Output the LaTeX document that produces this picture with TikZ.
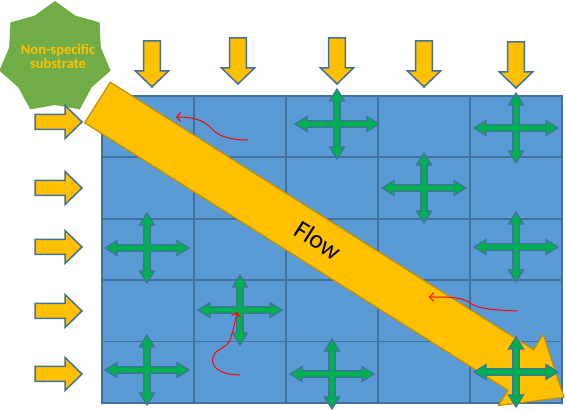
\documentclass[tikz,border=0pt]{standalone}
\usepackage{fontspec}
\setmainfont{Carlito}
\usetikzlibrary{arrows.meta}
\definecolor{gridfill}{HTML}{5B9BD5}
\definecolor{gridline}{HTML}{41719C}
\definecolor{gold}{HTML}{FFC000}
\definecolor{goldedge}{HTML}{BF9000}
\definecolor{crossg}{HTML}{00B050}
\definecolor{starg}{HTML}{70AD47}
\definecolor{redc}{HTML}{FF0000}
\tikzset{
 inarrow/.style={fill=gold, draw=gridline, line width=1.5pt, line join=miter},
 crossarrow/.style={fill=crossg, draw=gridline, line width=1.2pt},
 gridrule/.style={draw=gridline, line width=1.8pt},
 redflow/.style={draw=redc, line width=1pt, -{Straight Barb[length=4pt,width=9pt]}},
 pics/rarrow/.style={code={\path[inarrow] (0,-7.5) -- (30,-7.5) -- (30,-16.5) -- (47,0) -- (30,16.5) -- (30,7.5) -- (0,7.5) -- cycle;}},
 pics/darrow/.style={code={\path[inarrow] (-8.3,0) -- (8.3,0) -- (8.3,30) -- (16.5,30) -- (0,46) -- (-16.5,30) -- (-8.3,30) -- cycle;}},
 pics/quad/.style={code={\path[crossarrow] (42,0) -- (30,-7.5) -- (30,-3.2) -- (3.2,-3.2) -- (3.2,-23) -- (7.5,-23) -- (0,-35) -- (-7.5,-23) -- (-3.2,-23) -- (-3.2,-3.2) -- (-30,-3.2) -- (-30,-7.5) -- (-42,0) -- (-30,7.5) -- (-30,3.2) -- (-3.2,3.2) -- (-3.2,23) -- (-7.5,23) -- (0,35) -- (7.5,23) -- (3.2,23) -- (3.2,3.2) -- (30,3.2) -- (30,7.5) -- cycle;}},
}
\begin{document}
\begin{tikzpicture}[x=1pt,y=-1pt]
\useasboundingbox (0,0) rectangle (566,411);
% grid
\fill[gridfill] (102,96) rectangle (562,403);
\foreach \x in {194,286,378,470} \draw[gridrule] (\x,96) -- (\x,403);
\foreach \y in {157.4,218.8,280.2,341.6} \draw[gridrule] (102,\y) -- (562,\y);
\draw[gridrule] (102,96) rectangle (562,403);
% star
\begin{scope}[shift={(55,58)}]
\fill[starg] (-90:57) \foreach \k in {0,...,6}{ -- ({-90+(\k+0.5)*360/7}:47) -- ({-90+(\k+1)*360/7}:57)} -- cycle;
\end{scope}
\node[text=gold, font=\bfseries\fontsize{14.5}{14}\selectfont, align=center, inner sep=0pt] (substrate) at (58,56) {Non-specific\\substrate};
% incoming arrows
\foreach \y in {122,188,247,311,374} \pic at (35,\y) {rarrow};
\foreach \x/\y in {152/41,238/38,337/38,424/41,516/42} \pic at (\x,\y) {darrow};
% crosses
\foreach \x/\y in {337/124,516/128,424/188,147/248,516/247,240/310,147/370,332/374} \pic at (\x,\y) {quad};
% flow arrow
\path[fill=gold, draw=goldedge, line width=1.2pt, line join=miter] (110.3,82.2) -- (533.6,349.7) -- (543.2,334.5) -- (563.9,397.3) -- (498.4,405.5) -- (508,390.3) -- (84.7,122.8) -- cycle;
\pic at (516,372) {quad};
\node[rotate=-32.3, font=\fontsize{26}{26}\selectfont] (flow) at (318,240) {Flow};
% red curves
\coordinate (r1s) at (248,140); \coordinate (r1e) at (176,117);
\draw[redflow] (r1s) .. controls (230,140) and (218,136) .. (212,129) .. controls (205,121) and (195,117) .. (r1e);
\coordinate (r2s) at (517,311); \coordinate (r2e) at (429,297);
\draw[redflow] (r2s) .. controls (495,310) and (478,309) .. (470,303) .. controls (462,297) and (450,297) .. (r2e);
\coordinate (r3s) at (240,375); \coordinate (r3e) at (237,312);
\draw[redflow] (r3s) .. controls (222,375) and (210,368) .. (213,357) .. controls (216,348) and (226,349) .. (230,340) .. controls (233,332) and (235,322) .. (r3e);
\end{tikzpicture}
\end{document}
